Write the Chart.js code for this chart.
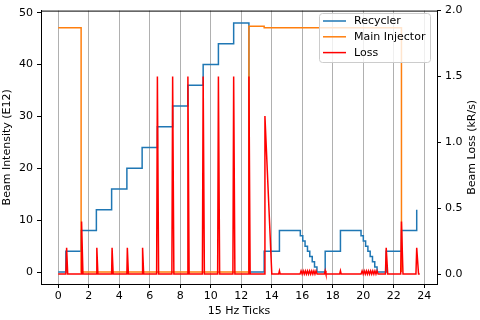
<!DOCTYPE html>
<html>
<head>
<meta charset="utf-8">
<script src="https://cdn.jsdelivr.net/npm/chart.js@4"></script>
<style>
  html, body { margin: 0; padding: 0; background: #fff; }
</style>
</head>
<body>
<canvas id="chart" width="480" height="320"></canvas>
<script>
// tick labels
const ticksX = [0, 2, 4, 6, 8, 10, 12, 14, 16, 18, 20, 22, 24];
const ticksLeft = [0, 10, 20, 30, 40, 50];
const ticksRight = [0, 0.5, 1.0, 1.5, 2.0];

// Recycler intensity (step, value holds until next x)
const recX = [0, 0.5, 1.5, 2.5, 3.5, 4.5, 5.5, 6.5, 7.5, 8.5, 9.5, 10.5, 11.5,
  12.5, 13.5, 14.5,
  15.87, 16.03, 16.18, 16.34, 16.49, 16.65, 16.8, 16.96,
  17.5, 18.5,
  19.85, 20.0, 20.15, 20.3, 20.45, 20.6, 20.75, 20.9,
  21.5, 22.5, 23.5];
const recY = [0, 4, 8, 12, 16, 20, 24, 28, 32, 36, 40, 44, 48,
  0, 4, 8,
  7, 6, 5, 4, 3, 2, 1, 0,
  4, 8,
  7, 6, 5, 4, 3, 2, 1, 0,
  4, 8, 12];

// Main Injector intensity
const injX = [0, 1.5, 12.5, 13.5, 22.5];
const injY = [47.1, 0, 47.4, 47.1, 0];

// Beam loss (kR/s)
const lossX = [
  0, 0.5, 0.55, 0.62,
  1.5, 1.53, 1.62,
  2.5, 2.53, 2.6,
  3.5, 3.53, 3.6,
  4.5, 4.53, 4.6,
  5.5, 5.53, 5.6,
  6.45, 6.5, 6.58,
  7.45, 7.5, 7.58,
  8.45, 8.5, 8.58,
  9.45, 9.5, 9.58,
  10.45, 10.5, 10.58,
  11.45, 11.5, 11.58,
  12.45, 12.5, 12.58,
  13.5, 13.55, 14.0,
  14.45, 14.5, 14.55,
  15.85, 15.92, 15.99, 16.06, 16.13, 16.2, 16.27, 16.34, 16.41, 16.48, 16.55, 16.62, 16.69, 16.76, 16.83, 16.9, 16.97,
  17.45, 17.5, 17.55,
  18.45, 18.5, 18.55,
  19.85, 19.92, 19.99, 20.06, 20.13, 20.2, 20.27, 20.34, 20.41, 20.48, 20.55, 20.62, 20.69, 20.76, 20.83, 20.9, 20.97,
  21.45, 21.5, 21.6,
  22.45, 22.5, 22.6,
  23.45, 23.5, 23.62,
  23.7
];
const lossY = [
  0, 0, 0.2, 0,
  0, 0.4, 0,
  0, 0.2, 0,
  0, 0.2, 0,
  0, 0.2, 0,
  0, 0.2, 0,
  0, 1.5, 0,
  0, 1.5, 0,
  0, 1.5, 0,
  0, 1.5, 0,
  0, 1.5, 0,
  0, 1.5, 0,
  0, 1.5, 0,
  0, 1.2, 0,
  0, 0.025, 0,
  0, 0.025, 0, 0.025, 0, 0.025, 0, 0.025, 0, 0.025, 0, 0.025, 0, 0.025, 0, 0.025, 0,
  0, 0.025, 0,
  0, 0.025, 0,
  0, 0.025, 0, 0.025, 0, 0.025, 0, 0.025, 0, 0.025, 0, 0.025, 0, 0.025, 0, 0.025, 0,
  0, 0.2, 0,
  0, 0.4, 0,
  0, 0.2, 0,
  0
];

const pts = (xs, ys) => xs.map((x, i) => ({ x: x, y: ys[i] }));

Chart.defaults.font.family = "'DejaVu Sans', sans-serif";
Chart.defaults.font.size = 11;
Chart.defaults.color = "#000";

// legend box inside the plot, top spine, right axis title (reads bottom-up)
const boxLegend = {
  id: "boxLegend",
  afterDatasetsDraw(chart) {
    const ctx = chart.ctx;
    const area = chart.chartArea;
    ctx.save();
    ctx.strokeStyle = "#000";
    ctx.lineWidth = 1;
    ctx.beginPath();
    ctx.moveTo(area.left, area.top + 0.5);
    ctx.lineTo(area.right, area.top + 0.5);
    ctx.stroke();

    const x = 319.5, y = 13.5, w = 111, h = 49, r = 3;
    ctx.beginPath();
    ctx.moveTo(x + r, y);
    ctx.lineTo(x + w - r, y);
    ctx.arcTo(x + w, y, x + w, y + r, r);
    ctx.lineTo(x + w, y + h - r);
    ctx.arcTo(x + w, y + h, x + w - r, y + h, r);
    ctx.lineTo(x + r, y + h);
    ctx.arcTo(x, y + h, x, y + h - r, r);
    ctx.lineTo(x, y + r);
    ctx.arcTo(x, y, x + r, y, r);
    ctx.closePath();
    ctx.fillStyle = "rgba(255,255,255,0.8)";
    ctx.fill();
    ctx.strokeStyle = "#cccccc";
    ctx.stroke();

    ctx.font = "11px 'DejaVu Sans'";
    ctx.textBaseline = "middle";
    ctx.fillStyle = "#000";
    chart.data.datasets.forEach((ds, i) => {
      const ly = 21 + i * 15.8;
      ctx.strokeStyle = ds.borderColor;
      ctx.lineWidth = 1.5;
      ctx.beginPath();
      ctx.moveTo(323, ly);
      ctx.lineTo(346, ly);
      ctx.stroke();
      ctx.fillText(ds.label, 354, ly + 0.5);
    });

    ctx.translate(472, (area.top + area.bottom) / 2);
    ctx.rotate(-Math.PI / 2);
    ctx.textAlign = "center";
    ctx.fillText("Beam Loss (kR/s)", 0, 0);
    ctx.restore();
  }
};

new Chart(document.getElementById("chart").getContext("2d"), {
  type: "line",
  data: {
    datasets: [
      {
        label: "Recycler",
        data: pts(recX, recY),
        borderColor: "#1f77b4",
        borderWidth: 1.5,
        stepped: true,
        yAxisID: "y",
        order: 3
      },
      {
        label: "Main Injector",
        data: pts(injX, injY),
        borderColor: "#ff7f0e",
        borderWidth: 1.5,
        stepped: true,
        yAxisID: "y",
        order: 2
      },
      {
        label: "Loss",
        data: pts(lossX, lossY),
        borderColor: "#ff0000",
        borderWidth: 1.5,
        yAxisID: "y1",
        order: 1
      }
    ]
  },
  options: {
    responsive: false,
    animation: false,
    layout: { padding: { top: 7, left: 0, right: 0, bottom: 0 } },
    elements: { point: { radius: 0 }, line: { tension: 0 } },
    plugins: { legend: { display: false }, tooltip: { enabled: false } },
    scales: {
      x: {
        type: "linear",
        min: -1.13,
        max: 24.83,
        afterBuildTicks: s => { s.ticks = ticksX.map(v => ({ value: v })); },
        afterFit: s => { s.height = 36; },
        ticks: { padding: 2, maxRotation: 0, autoSkip: false, callback: v => v },
        grid: { color: "#b0b0b0", lineWidth: 1, tickColor: "#000", tickLength: 4 },
        border: { color: "#000", width: 1 },
        title: { display: true, text: "15 Hz Ticks", padding: { top: 0, bottom: 2 } }
      },
      y: {
        position: "left",
        min: -2.3,
        max: 50.4,
        afterBuildTicks: s => { s.ticks = ticksLeft.map(v => ({ value: v })); },
        afterFit: s => { s.width = 41; },
        ticks: { padding: 4, callback: v => v },
        grid: { drawOnChartArea: false, tickColor: "#000", tickLength: 4 },
        border: { color: "#000", width: 1 },
        title: { display: true, text: "Beam Intensity (E12)", padding: { top: 1, bottom: 0 } }
      },
      y1: {
        position: "right",
        min: -0.075,
        max: 2.0,
        afterBuildTicks: s => { s.ticks = ticksRight.map(v => ({ value: v })); },
        afterFit: s => { s.width = 43; },
        ticks: { padding: 4, callback: v => v.toFixed(1) },
        grid: { drawOnChartArea: false, tickColor: "#000", tickLength: 4 },
        border: { color: "#000", width: 1 }
      }
    }
  },
  plugins: [boxLegend]
});
</script>
</body>
</html>
